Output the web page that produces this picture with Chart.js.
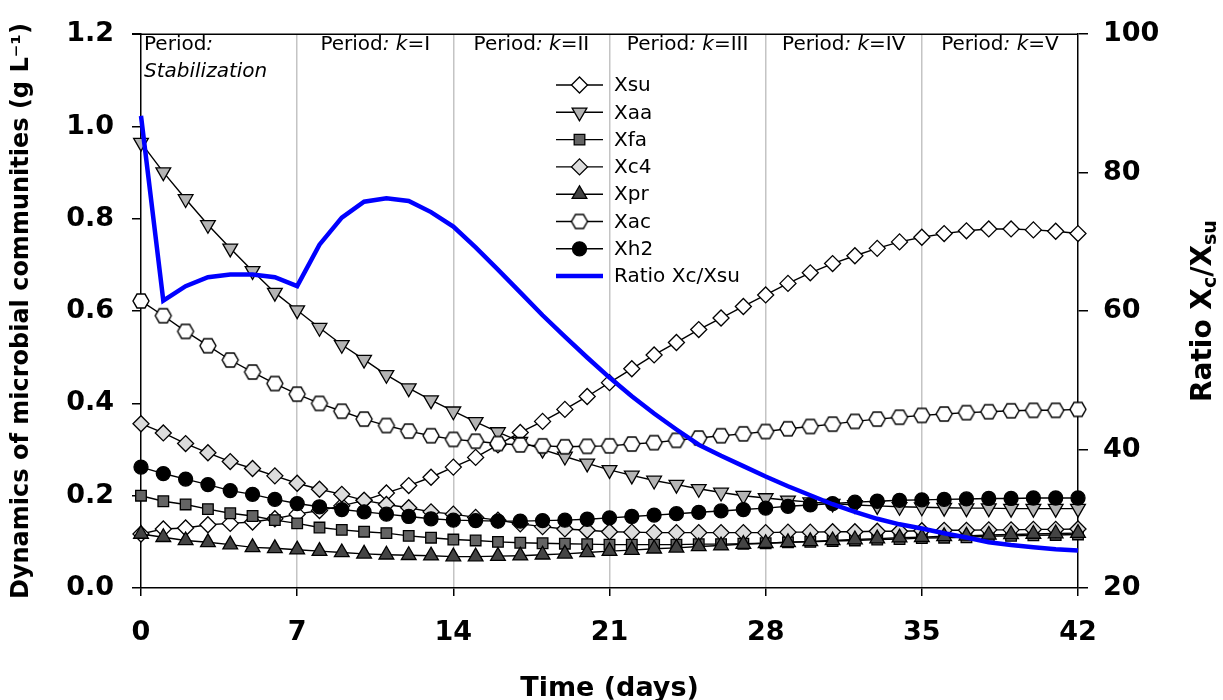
<!DOCTYPE html>
<html>
<head>
<meta charset="utf-8">
<script src="https://cdn.jsdelivr.net/npm/chart.js"></script>
<style>
    html, body { margin: 0; padding: 0; background: #fff; }
    #contenedor { width: 1223px; height: 700px; }
</style>
</head>
<body>
<div id="contenedor"><canvas id="graficaComunidades"></canvas></div>
<script>
// dias de operacion
const days = [0, 1, 2, 3, 4, 5, 6, 7, 8, 9, 10, 11, 12, 13, 14, 15, 16, 17, 18, 19, 20,
    21, 22, 23, 24, 25, 26, 27, 28, 29, 30, 31, 32, 33, 34, 35, 36, 37, 38, 39, 40, 41, 42];

// biomasa (g L-1)
const xsu = [0.117, 0.128, 0.130, 0.137, 0.140, 0.143, 0.150, 0.160, 0.168, 0.178, 0.190, 0.206, 0.222, 0.240, 0.262,
    0.283, 0.310, 0.337, 0.361, 0.387, 0.415, 0.445, 0.475, 0.505, 0.532, 0.560, 0.585, 0.610, 0.635,
    0.660, 0.683, 0.703, 0.720, 0.736, 0.750, 0.760, 0.768, 0.774, 0.778, 0.778, 0.776, 0.773, 0.768];
const xaa = [0.965, 0.901, 0.843, 0.787, 0.736, 0.687, 0.640, 0.602, 0.564, 0.527, 0.495, 0.462, 0.433, 0.407, 0.383,
    0.360, 0.338, 0.317, 0.300, 0.285, 0.270, 0.256, 0.244, 0.233, 0.224, 0.215, 0.207, 0.200, 0.195,
    0.190, 0.186, 0.183, 0.180, 0.178, 0.176, 0.175, 0.174, 0.173, 0.173, 0.172, 0.172, 0.172, 0.172];
const xfa = [0.200, 0.188, 0.181, 0.171, 0.162, 0.156, 0.147, 0.140, 0.131, 0.126, 0.122, 0.119, 0.113, 0.109, 0.105,
    0.103, 0.100, 0.098, 0.097, 0.096, 0.095, 0.094, 0.094, 0.094, 0.094, 0.095, 0.095, 0.096, 0.097,
    0.099, 0.100, 0.102, 0.103, 0.105, 0.106, 0.108, 0.109, 0.110, 0.112, 0.113, 0.114, 0.115, 0.116];
const xc4 = [0.356, 0.336, 0.313, 0.293, 0.274, 0.259, 0.243, 0.227, 0.214, 0.203, 0.190, 0.181, 0.174, 0.165, 0.160,
    0.153, 0.147, 0.139, 0.133, 0.128, 0.125, 0.122, 0.121, 0.120, 0.120, 0.120, 0.120, 0.120, 0.120,
    0.121, 0.121, 0.122, 0.122, 0.123, 0.123, 0.124, 0.125, 0.125, 0.126, 0.126, 0.127, 0.127, 0.128];
const xpr = [0.117, 0.110, 0.103, 0.099, 0.094, 0.088, 0.086, 0.083, 0.080, 0.077, 0.074, 0.072, 0.071, 0.070, 0.068,
    0.068, 0.069, 0.070, 0.072, 0.074, 0.077, 0.080, 0.082, 0.085, 0.087, 0.090, 0.092, 0.095, 0.097,
    0.099, 0.101, 0.103, 0.105, 0.107, 0.109, 0.110, 0.112, 0.113, 0.115, 0.116, 0.117, 0.118, 0.119];
const xac = [0.622, 0.590, 0.556, 0.525, 0.494, 0.468, 0.443, 0.420, 0.400, 0.383, 0.366, 0.352, 0.340, 0.330, 0.322,
    0.318, 0.313, 0.310, 0.308, 0.306, 0.307, 0.308, 0.312, 0.315, 0.320, 0.325, 0.330, 0.334, 0.339,
    0.345, 0.350, 0.355, 0.361, 0.366, 0.370, 0.374, 0.377, 0.380, 0.382, 0.384, 0.385, 0.385, 0.387];
const xh2 = [0.262, 0.248, 0.236, 0.224, 0.211, 0.203, 0.192, 0.183, 0.176, 0.170, 0.165, 0.160, 0.155, 0.150, 0.147,
    0.146, 0.145, 0.145, 0.146, 0.147, 0.149, 0.152, 0.155, 0.158, 0.161, 0.164, 0.167, 0.170, 0.173,
    0.177, 0.180, 0.183, 0.186, 0.188, 0.190, 0.191, 0.192, 0.193, 0.194, 0.194, 0.195, 0.195, 0.195];

// relacion Xc/Xsu (eje derecho)
const ratio = [88.2, 61.5, 63.6, 64.9, 65.3, 65.3, 64.9, 63.6, 69.6, 73.5, 75.8, 76.3, 75.9, 74.3, 72.2,
    69.2, 66.0, 62.7, 59.4, 56.3, 53.3, 50.4, 47.7, 45.2, 42.9, 40.7, 39.1, 37.6, 36.1,
    34.7, 33.4, 32.1, 31.0, 30.0, 29.2, 28.6, 27.9, 27.3, 26.6, 26.2, 25.9, 25.6, 25.4];

// periodos
const periodStarts = [7, 14, 21, 28, 35];
const periodNames = ['I', 'II', 'III', 'IV', 'V'];

const leftTicks = [0, 0.2, 0.4, 0.6, 0.8, 1.0, 1.2];
const rightTicks = [20, 40, 60, 80, 100];
const dayTicks = [0, 7, 14, 21, 28, 35, 42];

const FUENTE = '"DejaVu Sans", sans-serif';

// hexagono para Xac
function hexagono(r) {
    const c = document.createElement('canvas');
    const s = Math.ceil(2 * r + 4);
    c.width = s;
    c.height = s;
    const g = c.getContext('2d');
    g.beginPath();
    for (let i = 0; i < 6; i++) {
        const a = i * Math.PI / 3;
        const px = s / 2 + r * Math.cos(a);
        const py = s / 2 + r * Math.sin(a);
        if (i === 0) g.moveTo(px, py); else g.lineTo(px, py);
    }
    g.closePath();
    g.fillStyle = '#ffffff';
    g.fill();
    g.lineWidth = 1.4;
    g.strokeStyle = '#000000';
    g.stroke();
    return c;
}

function puntos(values) {
    return days.map((d, i) => ({ x: d, y: values[i] }));
}

function serie(label, values, style, fill, radius, rotation, order) {
    return {
        label: label,
        data: puntos(values),
        yAxisID: 'y',
        borderColor: '#000000',
        borderWidth: 1.4,
        pointStyle: style,
        pointRotation: rotation,
        pointRadius: radius,
        pointBackgroundColor: fill,
        pointBorderColor: '#000000',
        pointBorderWidth: 1.3,
        tension: 0,
        clip: false,
        order: order
    };
}

const hex = hexagono(8);

const datasets = [
    serie('Xsu', xsu, 'rectRot', '#ffffff', 8, 0, 8),
    serie('Xaa', xaa, 'triangle', '#b4b4b4', 8.5, 180, 7),
    serie('Xfa', xfa, 'rect', '#646464', 7.5, 0, 6),
    serie('Xc4', xc4, 'rectRot', '#dcdcdc', 8, 0, 5),
    serie('Xpr', xpr, 'triangle', '#444444', 8.5, 0, 4),
    serie('Xac', xac, hex, '#ffffff', 8, 0, 3),
    serie('Xh2', xh2, 'circle', '#000000', 7, 0, 2),
    {
        label: 'Ratio Xc/Xsu',
        data: puntos(ratio),
        yAxisID: 'y2',
        borderColor: '#0000ff',
        borderWidth: 4.5,
        pointRadius: 0,
        tension: 0,
        clip: false,
        order: 1
    }
];

// leyenda dentro del area
const leyenda = {
    id: 'leyenda',
    afterDatasetsDraw(chart) {
        const ctx = chart.ctx;
        ctx.save();
        chart.data.datasets.forEach((ds, i) => {
            const y = 85 + i * 27.3;
            ctx.beginPath();
            ctx.moveTo(556, y);
            ctx.lineTo(603, y);
            ctx.strokeStyle = ds.borderColor;
            ctx.lineWidth = ds.borderWidth;
            ctx.stroke();
            if (ds.pointRadius > 0) {
                ctx.fillStyle = ds.pointBackgroundColor;
                ctx.strokeStyle = '#000000';
                ctx.lineWidth = ds.pointBorderWidth;
                Chart.helpers.drawPoint(ctx, {
                    pointStyle: ds.pointStyle,
                    rotation: ds.pointRotation,
                    radius: ds.pointRadius,
                    borderWidth: ds.pointBorderWidth
                }, 579.5, y);
            }
            ctx.fillStyle = '#000000';
            ctx.font = '20px ' + FUENTE;
            ctx.textBaseline = 'middle';
            ctx.textAlign = 'left';
            ctx.fillText(ds.label, 614, y + 1);
        });
        ctx.restore();
    }
};

function textoMixto(ctx, partes, x, y, centrado) {
    let total = 0;
    partes.forEach(p => { ctx.font = p[1]; total += ctx.measureText(p[0]).width; });
    let cx = centrado ? x - total / 2 : x;
    partes.forEach(p => {
        ctx.font = p[1];
        ctx.fillText(p[0], cx, y + (p[2] || 0));
        cx += ctx.measureText(p[0]).width;
    });
}

// marco superior, periodos y titulo derecho
const decoracion = {
    id: 'decoracion',
    afterDraw(chart) {
        const ctx = chart.ctx;
        const area = chart.chartArea;
        const sx = chart.scales.x;
        ctx.save();
        ctx.strokeStyle = '#000000';
        ctx.lineWidth = 1.5;
        ctx.beginPath();
        ctx.moveTo(area.left - 9, area.top);
        ctx.lineTo(area.right, area.top);
        ctx.stroke();

        ctx.fillStyle = '#000000';
        ctx.textBaseline = 'alphabetic';
        ctx.textAlign = 'left';
        const normal = '20px ' + FUENTE;
        const italica = 'italic 20px ' + FUENTE;
        textoMixto(ctx, [['Period', normal], [':', italica]], area.left + 3, 50, false);
        textoMixto(ctx, [['Stabilization', italica]], area.left + 3, 77, false);
        periodStarts.forEach((d, i) => {
            const cx = sx.getPixelForValue(d + 3.5);
            textoMixto(ctx, [['Period', normal], [': ', italica], ['k', italica], ['=' + periodNames[i], normal]], cx, 50, true);
        });

        ctx.translate(1204, (area.top + area.bottom) / 2);
        ctx.rotate(-Math.PI / 2);
        ctx.textBaseline = 'middle';
        const grande = 'bold 28px ' + FUENTE;
        const chica = 'bold 19px ' + FUENTE;
        textoMixto(ctx, [['Ratio X', grande], ['c', chica, 7], ['/X', grande], ['su', chica, 7]], 0, 0, true);
        ctx.restore();
    }
};

const fuenteTicks = { family: FUENTE, size: 27, weight: 'bold' };

new Chart(document.getElementById('graficaComunidades'), {
    type: 'line',
    data: { datasets: datasets },
    options: {
        responsive: true,
        maintainAspectRatio: false,
        animation: false,
        devicePixelRatio: 1,
        layout: { padding: { top: 27, left: 0, right: 0, bottom: 0 } },
        plugins: {
            legend: { display: false },
            tooltip: { enabled: false }
        },
        scales: {
            x: {
                type: 'linear',
                min: 0,
                max: 42,
                afterFit: s => { s.height = 112; },
                afterBuildTicks: s => { s.ticks = dayTicks.map(v => ({ value: v })); },
                ticks: { font: fuenteTicks, color: '#000000', padding: 21, maxRotation: 0 },
                grid: {
                    color: c => (c.tick && c.tick.value > 0 && c.tick.value < 42) ? '#c4c4c4' : 'rgba(0,0,0,0)',
                    lineWidth: 1.5,
                    tickColor: '#000000',
                    tickLength: 8
                },
                border: { color: '#000000', width: 1.5 },
                title: {
                    display: true,
                    text: 'Time (days)',
                    color: '#000000',
                    font: { family: FUENTE, size: 27, weight: 'bold', lineHeight: 1 },
                    padding: { top: 0, bottom: -2 }
                }
            },
            y: {
                position: 'left',
                min: 0,
                max: 1.2,
                afterFit: s => { s.width = 141; },
                afterBuildTicks: s => { s.ticks = leftTicks.map(v => ({ value: v })); },
                ticks: { font: fuenteTicks, color: '#000000', padding: 18, callback: v => v.toFixed(1) },
                grid: { drawOnChartArea: false, tickColor: '#000000', lineWidth: 1.5, tickLength: 9 },
                border: { color: '#000000', width: 1.5 },
                title: {
                    display: true,
                    text: 'Dynamics of microbial communities (g L\u207B\u00B9)',
                    color: '#000000',
                    font: { family: FUENTE, size: 24, weight: 'bold', lineHeight: 1 },
                    padding: { top: 10, bottom: 0 }
                }
            },
            y2: {
                position: 'right',
                min: 20,
                max: 100,
                afterFit: s => { s.width = 145; },
                afterBuildTicks: s => { s.ticks = rightTicks.map(v => ({ value: v })); },
                ticks: { font: fuenteTicks, color: '#000000', padding: 15 },
                grid: { drawOnChartArea: false, tickColor: '#000000', lineWidth: 1.5, tickLength: 10 },
                border: { color: '#000000', width: 1.5 }
            }
        }
    },
    plugins: [leyenda, decoracion]
});
</script>
</body>
</html>
